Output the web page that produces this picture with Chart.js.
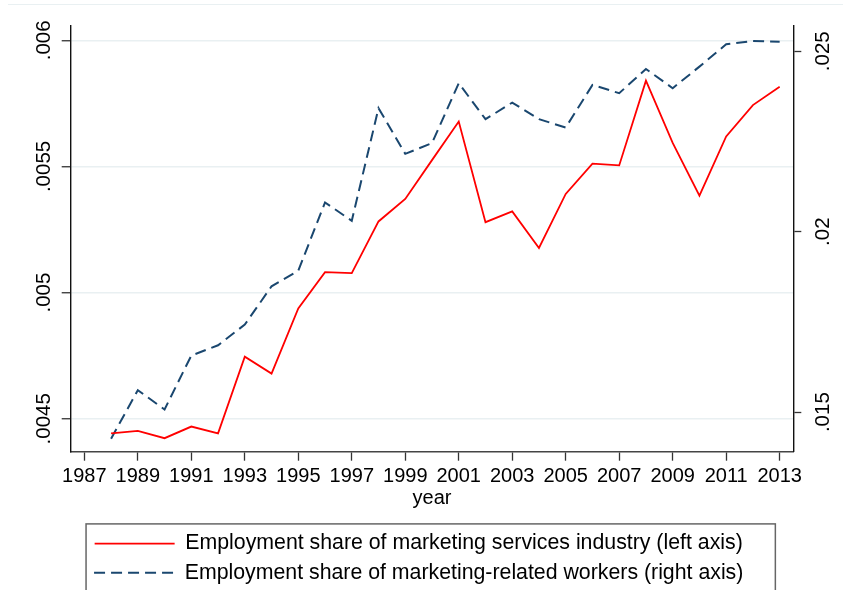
<!DOCTYPE html>
<html>
<head>
<meta charset="utf-8">
<script src="https://cdn.jsdelivr.net/npm/chart.js@4"></script>
<style>
  html, body { margin: 0; padding: 0; background: #fff; }
  canvas { display: block; }
</style>
</head>
<body>
<canvas id="chart" width="843" height="590"></canvas>
<script>
const years = [1988, 1989, 1990, 1991, 1992, 1993, 1994, 1995, 1996, 1997, 1998, 1999, 2000,
    2001, 2002, 2003, 2004, 2005, 2006, 2007, 2008, 2009, 2010, 2011, 2012, 2013];

// employment share of marketing services industry (left axis)
const industryShare = [0.004442, 0.004452, 0.004423, 0.004469, 0.004442, 0.004746, 0.004679,
    0.004937, 0.005081, 0.005077, 0.005282, 0.005371, 0.005525, 0.005678, 0.005279, 0.005322,
    0.005177, 0.005391, 0.005511, 0.005504, 0.005840, 0.005593, 0.005384, 0.005619, 0.005743,
    0.005816];

// employment share of marketing-related workers (right axis)
const workerShare = [0.014264, 0.015609, 0.015075, 0.016569, 0.016854, 0.017427, 0.018487,
    0.018921, 0.020811, 0.020304, 0.023423, 0.022158, 0.022454, 0.024115, 0.023118, 0.023578,
    0.023118, 0.022886, 0.024068, 0.023838, 0.024510, 0.023976, 0.024574, 0.025194, 0.025285,
    0.025266];

const yearTicks = [1987, 1989, 1991, 1993, 1995, 1997, 1999, 2001, 2003, 2005, 2007, 2009, 2011, 2013];
const leftTicks = [0.0045, 0.005, 0.0055, 0.006];
const leftTickLabels = ['.0045', '.005', '.0055', '.006'];
const rightTicks = [0.015, 0.02, 0.025];
const rightTickLabels = ['.015', '.02', '.025'];

const seriesLabels = [
    'Employment share of marketing services industry (left axis)',
    'Employment share of marketing-related workers (right axis)',
];

const fontFamily = '"Liberation Sans", Arial, sans-serif';
const gridColor = '#e9f0f2';
const tickColor = '#333';

// box around the legend plus the faint outer frame line at the top
const legendFrame = {
    id: 'legendFrame',
    afterDraw(chart) {
        const ctx = chart.ctx;
        const legend = chart.legend;
        const boxes = legend.legendHitBoxes;
        const left = Math.min(...boxes.map(b => b.left)) - 8;
        const right = Math.max(...boxes.map(b => b.left + b.width)) + 32;
        ctx.save();
        ctx.strokeStyle = '#666';
        ctx.lineWidth = 1.5;
        ctx.strokeRect(left, legend.top - 1, right - left, chart.height);
        ctx.strokeStyle = gridColor;
        ctx.lineWidth = 1.2;
        ctx.beginPath();
        ctx.moveTo(8, 4.5);
        ctx.lineTo(chart.width, 4.5);
        ctx.stroke();
        ctx.restore();
    }
};

const ctx = document.getElementById('chart').getContext('2d');

new Chart(ctx, {
    type: 'line',
    data: {
        datasets: [
            {
                label: seriesLabels[0],
                data: years.map((y, i) => ({ x: y, y: industryShare[i] })),
                yAxisID: 'yLeft',
                borderColor: '#ff0000',
                backgroundColor: '#ff0000',
                borderWidth: 1.8,
                pointRadius: 0,
                tension: 0,
            },
            {
                label: seriesLabels[1],
                data: years.map((y, i) => ({ x: y, y: workerShare[i] })),
                yAxisID: 'yRight',
                borderColor: '#1a476f',
                backgroundColor: '#1a476f',
                borderWidth: 2,
                borderDash: [11, 6],
                pointRadius: 0,
                tension: 0,
            },
        ],
    },
    options: {
        responsive: false,
        animation: false,
        layout: {
            padding: { top: 26, right: 5.6, bottom: -3.5, left: 0 }
        },
        plugins: {
            legend: {
                position: 'bottom',
                labels: {
                    usePointStyle: true,
                    pointStyle: 'line',
                    pointStyleWidth: 80,
                    padding: 8,
                    color: '#000',
                    font: { family: fontFamily, size: 21.3 },
                    // point style legend items lose the dataset dash, so copy it back
                    generateLabels: (chart) => Chart.defaults.plugins.legend.labels.generateLabels(chart)
                        .map((item, i) => ({
                            ...item,
                            lineDash: chart.data.datasets[i].borderDash || [],
                            lineWidth: chart.data.datasets[i].borderWidth,
                            strokeStyle: chart.data.datasets[i].borderColor,
                        }))
                }
            },
            tooltip: { enabled: false }
        },
        scales: {
            x: {
                type: 'linear',
                min: 1986.49,
                max: 2013.51,
                afterBuildTicks: (scale) => { scale.ticks = yearTicks.map(v => ({ value: v })); },
                afterFit: (scale) => { scale.height = 73.2; },
                grid: { drawOnChartArea: false, tickLength: 9, tickColor: tickColor, tickWidth: 1.3 },
                border: { color: '#444', width: 1.4 },
                ticks: {
                    padding: 4,
                    color: '#000',
                    maxRotation: 0,
                    autoSkip: false,
                    font: { family: fontFamily, size: 20 },
                    callback: (v) => String(v)
                },
                title: {
                    display: true,
                    text: 'year',
                    color: '#000',
                    padding: { top: 0, bottom: 14.9 },
                    font: { family: fontFamily, size: 20 }
                }
            },
            yLeft: {
                type: 'linear',
                position: 'left',
                min: 0.0043694,
                max: 0.0060566,
                afterBuildTicks: (scale) => { scale.ticks = leftTicks.map(v => ({ value: v })); },
                afterFit: (scale) => { scale.width = 70.7; },
                grid: { color: gridColor, lineWidth: 1.5, tickLength: 9, tickColor: tickColor, tickWidth: 1.3 },
                border: { color: '#111', width: 1.4 },
                ticks: {
                    minRotation: 90,
                    maxRotation: 90,
                    crossAlign: 'center',
                    padding: -8,
                    color: '#000',
                    font: { family: fontFamily, size: 20.5 },
                    callback: (v) => leftTickLabels[leftTicks.indexOf(v)]
                }
            },
            yRight: {
                type: 'linear',
                position: 'right',
                min: 0.0139043,
                max: 0.0257,
                afterBuildTicks: (scale) => { scale.ticks = rightTicks.map(v => ({ value: v })); },
                afterFit: (scale) => { scale.width = 44.1; },
                grid: { drawOnChartArea: false, tickLength: 8, tickColor: tickColor, tickWidth: 1.3 },
                border: { color: '#111', width: 1.4 },
                ticks: {
                    minRotation: 90,
                    maxRotation: 90,
                    crossAlign: 'center',
                    padding: 2,
                    color: '#000',
                    font: { family: fontFamily, size: 20.5 },
                    callback: (v) => rightTickLabels[rightTicks.indexOf(v)]
                }
            }
        }
    },
    plugins: [legendFrame]
});
</script>
</body>
</html>
